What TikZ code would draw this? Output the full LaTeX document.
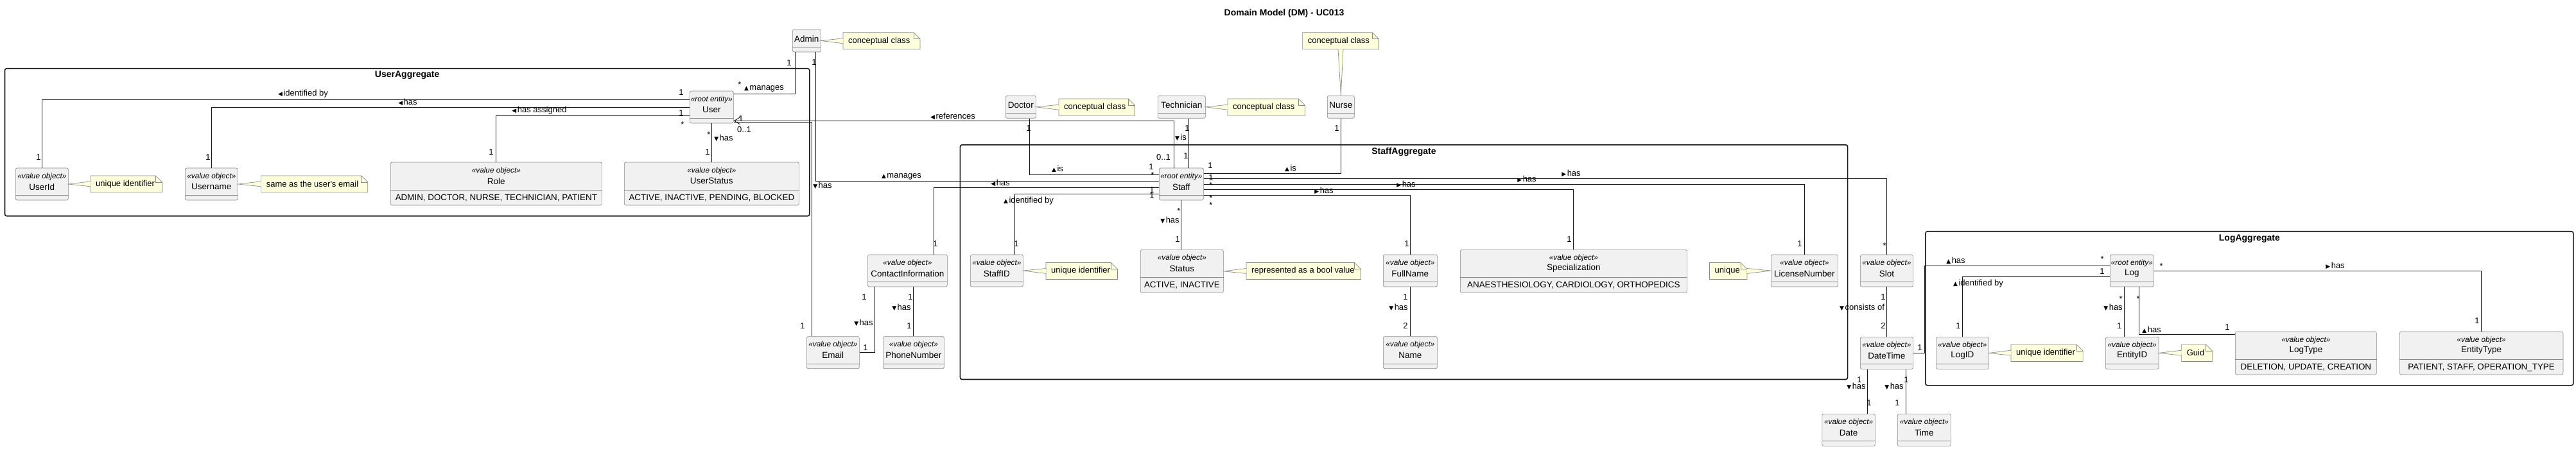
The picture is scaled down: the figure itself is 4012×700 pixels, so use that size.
\documentclass[tikz,border=0pt]{standalone}
\usepackage{fontspec}
\setmainfont{Liberation Sans}
\newfontfamily\symfont{DejaVu Sans}
\usepackage{tikz}
\usetikzlibrary{arrows.meta,calc,positioning}
\definecolor{clsfill}{HTML}{F1F1F1}
\definecolor{notefill}{HTML}{FEFFDD}
\definecolor{edgecol}{HTML}{181818}
\definecolor{boxcol}{HTML}{8A8A8A}
\tikzset{
  cls/.style={draw=boxcol, fill=clsfill, rounded corners=2.5pt, line width=0.7pt, inner sep=0pt, anchor=north west},
  clsline/.style={draw=boxcol, line width=0.7pt},
  stereo/.style={font=\fontsize{11.8}{13}\selectfont\itshape, inner sep=0pt},
  clsname/.style={font=\fontsize{13.5}{15}\selectfont, inner sep=0pt},
  enumtxt/.style={font=\fontsize{13.4}{15}\selectfont, inner sep=0pt},
  notebox/.style={inner sep=0pt, anchor=north west},
  notetxt/.style={font=\fontsize{13}{15}\selectfont, inner sep=0pt, anchor=west},
  notedraw/.style={draw=boxcol, fill=notefill, line width=0.7pt},
  assoc/.style={draw=edgecol, line width=0.9pt},
  lbl/.style={font=\fontsize{13}{15}\selectfont, inner sep=0pt},
  pkg/.style={draw=edgecol, line width=1.6pt, rounded corners=3pt, inner sep=0pt, anchor=north west},
  pkgtitle/.style={font=\fontsize{14}{16}\selectfont\bfseries, inner sep=0pt},
}
\newcommand{\dirL}{{\symfont\fontsize{9}{9}\selectfont\char"25C0}\hspace{1.5pt}}
\newcommand{\dirR}{{\symfont\fontsize{9}{9}\selectfont\char"25B6}\hspace{1.5pt}}
\newcommand{\dirU}{{\symfont\fontsize{9}{9}\selectfont\char"25B2}\hspace{1.5pt}}
\newcommand{\dirD}{{\symfont\fontsize{9}{9}\selectfont\char"25BC}\hspace{1.5pt}}
% class boxes: name, left, top, width, ...
\newcommand{\plaincls}[5]{%
  \node[cls, minimum width=#4pt, minimum height=35pt] (#1) at (#2,#3) {};
  \draw[clsline] ([yshift=8pt]#1.south west) -- ([yshift=8pt]#1.south east);
  \node[clsname] (#1-nm) at ([yshift=-15pt]#1.north) {#5};
}
\newcommand{\valcls}[6]{%
  \node[cls, minimum width=#4pt, minimum height=50pt] (#1) at (#2,#3) {};
  \draw[clsline] ([yshift=8pt]#1.south west) -- ([yshift=8pt]#1.south east);
  \node[stereo] (#1-st) at ([yshift=-13.5pt]#1.north) {«#5»};
  \node[clsname] (#1-nm) at ([yshift=-29.5pt]#1.north) {#6};
}
\newcommand{\enumcls}[6]{%
  \node[cls, minimum width=#4pt, minimum height=67pt] (#1) at (#2,#3) {};
  \draw[clsline] ([yshift=24pt]#1.south west) -- ([yshift=24pt]#1.south east);
  \node[stereo] (#1-st) at ([yshift=-13.5pt]#1.north) {«value object»};
  \node[clsname] (#1-nm) at ([yshift=-29.5pt]#1.north) {#5};
  \node[enumtxt] (#1-val) at ([yshift=-56pt]#1.north) {#6};
}
% notes: name, left, top, width, height, text
\newcommand{\umlnote}[6]{%
  \node[notebox, minimum width=#4pt, minimum height=#5pt] (#1) at (#2,#3) {};
  \draw[notedraw] (#1.north west) -- ([xshift=-10pt]#1.north east) -- ([yshift=-10pt]#1.north east) -- (#1.south east) -- (#1.south west) -- cycle;
  \draw[clsline] ([xshift=-10pt]#1.north east) |- ([yshift=-10pt]#1.north east);
  \node[notetxt] (#1-tx) at ([xshift=8pt]#1.west) {#6};
}
% note tail: tip, base, shift key
\newcommand{\notetail}[3]{%
  \draw[notedraw] ([#3=4pt]#2) -- (#1) -- ([#3=-4pt]#2);
}
\begin{document}
\begin{tikzpicture}[x=1pt,y=-1pt]
\fill[white] (0,0) rectangle (4012,700);
\useasboundingbox (0,0) rectangle (4012,700);

\node[pkgtitle] (title) at (2000,20.7) {Domain Model (DM) - UC013};

% aggregates
\node[pkg, minimum width=1253.3pt, minimum height=230pt] (UserAgg) at (6.7,106) {};
\node[pkgtitle] (UserAggT) at ([yshift=-11pt]UserAgg.north) {UserAggregate};
\node[pkg, minimum width=1382.2pt, minimum height=365.7pt] (StaffAgg) at (1494.6,225) {};
\node[pkgtitle] (StaffAggT) at ([yshift=-12pt]StaffAgg.north) {StaffAggregate};
\node[pkg, minimum width=1009pt, minimum height=240pt] (LogAgg) at (2998,360) {};
\node[pkgtitle] (LogAggT) at ([yshift=-12pt]LogAgg.north) {LogAggregate};

% conceptual classes
\plaincls{Admin}{1234}{45.7}{44}{Admin}
\plaincls{Doctor}{1566}{149}{47}{Doctor}
\plaincls{Technician}{1803}{149}{74}{Technician}
\plaincls{Nurse}{2067}{149}{42}{Nurse}

% user aggregate
\valcls{User}{1074}{141.7}{68}{root entity}{User}
\valcls{UserId}{24}{261.7}{82}{value object}{UserId}
\valcls{Username}{288}{261.7}{82}{value object}{Username}
\enumcls{Role}{608}{252.7}{329}{Role}{ADMIN, DOCTOR, NURSE, TECHNICIAN, PATIENT}
\enumcls{UserStatus}{972}{252.7}{272}{UserStatus}{ACTIVE, INACTIVE, PENDING, BLOCKED}

% staff aggregate
\valcls{Staff}{1805}{261.7}{69}{root entity}{Staff}
\valcls{ContactInformation}{1351}{396.7}{124}{value object}{ContactInformation}
\valcls{StaffID}{1511}{396.7}{82}{value object}{StaffID}
\enumcls{Status}{1776}{389}{129}{Status}{ACTIVE, INACTIVE}
\valcls{FullName}{2154}{396.7}{84}{value object}{FullName}
\enumcls{Specialization}{2274}{389}{353}{Specialization}{ANAESTHESIOLOGY, CARDIOLOGY, ORTHOPEDICS}
\valcls{LicenseNumber}{2758}{396.7}{104}{value object}{LicenseNumber}
\valcls{Slot}{2897}{396.7}{82}{value object}{Slot}
\valcls{Email}{1256}{524.3}{82}{value object}{Email}
\valcls{PhoneNumber}{1375}{524.3}{95}{value object}{PhoneNumber}
\valcls{Name}{2154}{524.3}{84}{value object}{Name}
\valcls{DateTime}{2897}{525}{82}{value object}{DateTime}
\valcls{Date}{2837.5}{645}{82.5}{value object}{Date}
\valcls{Time}{2955}{645}{83}{value object}{Time}

% log aggregate
\valcls{Log}{3286}{396.7}{68}{root entity}{Log}
\valcls{LogID}{3015}{525}{82}{value object}{LogID}
\valcls{EntityID}{3279}{525}{82.6}{value object}{EntityID}
\enumcls{LogType}{3481}{516.7}{220}{LogType}{DELETION, UPDATE, CREATION}
\enumcls{EntityType}{3737}{516.7}{254.5}{EntityType}{PATIENT, STAFF, OPERATION\_TYPE}

% notes
\umlnote{AdminNote}{1313}{50.7}{119.6}{25.6}{conceptual class}
\umlnote{DoctorNote}{1649}{154}{118}{26}{conceptual class}
\umlnote{TechNote}{1912}{154}{120}{26}{conceptual class}
\umlnote{NurseNote}{2028.6}{50.7}{118.4}{25.6}{conceptual class}
\umlnote{UserIdNote}{141}{274}{111}{25.3}{unique identifier}
\umlnote{UsernameNote}{406.6}{274}{165.8}{25.3}{same as the user\textquotesingle s email}
\umlnote{StaffIDNote}{1629}{409.5}{111}{25.5}{unique identifier}
\umlnote{StatusNote}{1941}{409.5}{178}{25.5}{represented as a bool value}
\umlnote{LicenseNote}{2662.5}{409.5}{58}{25.5}{unique}
\umlnote{LogIDNote}{3132}{537}{111.7}{26}{unique identifier}
\umlnote{EntityIDNote}{3397.6}{537}{47.7}{26}{Guid}
\notetail{Admin.east}{AdminNote.west}{yshift}
\notetail{Doctor.east}{DoctorNote.west}{yshift}
\notetail{Technician.east}{TechNote.west}{yshift}
\notetail{Nurse.north}{NurseNote.south}{xshift}
\notetail{UserId.east}{UserIdNote.west}{yshift}
\notetail{Username.east}{UsernameNote.west}{yshift}
\notetail{StaffID.east}{StaffIDNote.west}{yshift}
\notetail{Status.east}{StatusNote.west}{yshift}
\notetail{LicenseNumber.west}{LicenseNote.east}{yshift}
\notetail{LogID.east}{LogIDNote.west}{yshift}
\notetail{EntityID.east}{EntityIDNote.west}{yshift}

% associations
\draw[assoc] ([xshift=-18pt]Admin.south) |- ([yshift=21pt]User.east);
\draw[assoc] ([xshift=14.5pt]Admin.south) |- ([yshift=4.4pt]Staff.west);
\draw[assoc] ([yshift=12pt]User.west) -| (UserId.north);
\draw[assoc] (User.west) -| (Username.north);
\draw[assoc] ([yshift=-13pt]User.west) -| (Role.north);
\draw[assoc] (User.south) -- (UserStatus.north);
\draw[assoc] ([yshift=-23pt]User.east) -| ([xshift=-33pt]Email.north);
\draw[assoc, -{Straight Barb[length=9pt,width=11pt]}] ([xshift=-11.5pt]Staff.north) |- ([yshift=-21.3pt]User.east);
\draw[assoc] ([xshift=14pt]Doctor.south) |- ([yshift=14.4pt]Staff.west);
\draw[assoc] ([xshift=11pt]Technician.south) -- ([xshift=11.5pt]Staff.north);
\draw[assoc] (Nurse.south) |- ([yshift=16.7pt]Staff.east);
\draw[assoc] ([yshift=8.4pt]Staff.east) -| (Slot.north);
\draw[assoc] (Staff.east) -| (LicenseNumber.north);
\draw[assoc] ([yshift=-8.6pt]Staff.east) -| (Specialization.north);
\draw[assoc] ([yshift=-17.6pt]Staff.east) -| (FullName.north);
\draw[assoc] (Staff.south) -- (Staff.south |- Status.north);
\draw[assoc] ([yshift=-5.6pt]Staff.west) -| ([xshift=41pt]ContactInformation.north);
\draw[assoc] ([yshift=-15.6pt]Staff.west) -| ([xshift=28pt]StaffID.north);
\draw[assoc] ([xshift=-50.5pt]ContactInformation.south) |- (Email.east);
\draw[assoc] (PhoneNumber.north |- ContactInformation.south) -- (PhoneNumber.north);
\draw[assoc] (FullName.south) -- (Name.north);
\draw[assoc] (Slot.south) -- (DateTime.north);
\draw[assoc] ([xshift=-29.5pt]DateTime.south) -- ([xshift=-29.5pt]DateTime.south |- Date.north);
\draw[assoc] ([xshift=29.8pt]DateTime.south) -- ([xshift=29.8pt]DateTime.south |- Time.north);
\draw[assoc] (DateTime.east) -- ++(18pt,0pt) |- ([yshift=7.7pt]Log.west);
\draw[assoc] ([yshift=-9.7pt]Log.west) -| (LogID.north);
\draw[assoc] ([xshift=-11.6pt]Log.south) -- ([xshift=-11.6pt]Log.south |- EntityID.north);
\draw[assoc] ([xshift=11.3pt]Log.south) |- ([yshift=29pt]LogType.west);
\draw[assoc] (Log.east) -| (EntityType.north);

% user aggregate labels
\node[lbl] (lUid) at (472,146) {\dirL identified by};
\node[lbl] (lUname) at (635,159) {\dirL has};
\node[lbl] (lRole) at (840,172) {\dirL has assigned};
\node[lbl] (lUst) at (1127,215) {\dirD has};
\node[lbl] (mUid1) at (1061,144) {1};
\node[lbl] (mUname1) at (1061,176) {1};
\node[lbl] (mRole1) at (1063,194) {*};
\node[lbl] (mUid2) at (60,245) {1};
\node[lbl] (mUname2) at (324,245) {1};
\node[lbl] (mRole2) at (765,237) {1};
\node[lbl] (mUst1) at (1104,210) {*};
\node[lbl] (mUst2) at (1102,237) {1};
% admin labels
\node[lbl] (lAdmU) at (1190,138) {\dirU manages};
\node[lbl] (mAdmU1) at (1229,98) {1};
\node[lbl] (mAdmU2) at (1152,132) {*};
\node[lbl] (lAdmS) at (1404,275) {\dirU manages};
\node[lbl] (mAdmS1) at (1268,97) {1};
\node[lbl] (mAdmS2) at (1795,273) {*};
% email and references
\node[lbl] (mRef1) at (1154,185) {1};
\node[lbl] (mMail1) at (1159,202) {0..1};
\node[lbl] (lMail) at (1281,289) {\dirD has};
\node[lbl] (mMail2) at (1250,508) {1};
\node[lbl] (lRef) at (1484,181) {\dirL references};
\node[lbl] (mRef2) at (1812,245) {0..1};
% doctor, technician, nurse
\node[lbl] (mDoc1) at (1602,200) {1};
\node[lbl] (lDoc) at (1647,263) {\dirU is};
\node[lbl] (mDoc2) at (1793,260) {1};
\node[lbl] (mTec1) at (1849,200) {1};
\node[lbl] (lTec) at (1839,214) {\dirD is};
\node[lbl] (mTec2) at (1847,243) {1};
\node[lbl] (mNur1) at (2082,200) {1};
\node[lbl] (lNur) at (2010,262) {\dirU is};
\node[lbl] (mNur2) at (1885,258) {1};
% staff right side
\node[lbl] (mSlot1) at (1886,277) {1};
\node[lbl] (mLic1) at (1886,289) {*};
\node[lbl] (mSpec1) at (1886,309) {*};
\node[lbl] (mFull1) at (1886,320) {*};
\node[lbl] (lSlot) at (2447,270) {\dirR has};
\node[lbl] (lLic) at (2378,279) {\dirR has};
\node[lbl] (lSpec) at (2190,287) {\dirR has};
\node[lbl] (lFull) at (2062,297) {\dirR has};
\node[lbl] (mSlot2) at (2935,383) {*};
\node[lbl] (mLic2) at (2803,380) {1};
\node[lbl] (mSpec2) at (2444,373) {1};
\node[lbl] (mFull2) at (2191,380) {1};
% staff left and bottom
\node[lbl] (lCont) at (1558,285) {\dirL has};
\node[lbl] (mCont1) at (1794,296) {1};
\node[lbl] (mCont2) at (1457,380) {1};
\node[lbl] (lSid) at (1602,313) {\dirU identified by};
\node[lbl] (mSid1) at (1794,305) {1};
\node[lbl] (mSid2) at (1583,380) {1};
\node[lbl] (mStat1) at (1836,329) {*};
\node[lbl] (lStat) at (1822,343) {\dirD has};
\node[lbl] (mStat2) at (1834,373) {1};
% contact information
\node[lbl] (mCm1) at (1346,463) {1};
\node[lbl] (lCm) at (1345,503) {\dirD has};
\node[lbl] (mCm2) at (1348,542) {1};
\node[lbl] (mCp1) at (1418,463) {1};
\node[lbl] (lCp) at (1404,479) {\dirD has};
\node[lbl] (mCp2) at (1416,508) {1};
% name
\node[lbl] (mNm1) at (2189,463) {1};
\node[lbl] (lNm) at (2178,479) {\dirD has};
\node[lbl] (mNm2) at (2189,508) {2};
% slot, datetime
\node[lbl] (mDt1) at (2933,463) {1};
\node[lbl] (lDt) at (2900,479) {\dirD consists of};
\node[lbl] (mDt2) at (2933,508) {2};
\node[lbl] (mDa1) at (2896,592) {1};
\node[lbl] (lDa) at (2891,602) {\dirD has};
\node[lbl] (mDa2) at (2911,628) {1};
\node[lbl] (mTi1) at (2969,592) {1};
\node[lbl] (lTi) at (2950,602) {\dirD has};
\node[lbl] (mTi2) at (2955,628) {1};
% log
\node[lbl] (mDl1) at (2990,542) {1};
\node[lbl] (lDl) at (3046,406) {\dirU has};
\node[lbl] (mDl2) at (3274,404) {*};
\node[lbl] (mLid1) at (3274,423) {1};
\node[lbl] (lLid) at (3081,442) {\dirU identified by};
\node[lbl] (mLid2) at (3050,508) {1};
\node[lbl] (mEid1) at (3303,466) {*};
\node[lbl] (lEid) at (3291,479) {\dirD has};
\node[lbl] (mEid2) at (3301,508) {1};
\node[lbl] (mLt1) at (3330,466) {*};
\node[lbl] (lLt) at (3351,514) {\dirU has};
\node[lbl] (mLt2) at (3469,510) {1};
\node[lbl] (mEt1) at (3366,415) {*};
\node[lbl] (lEt) at (3637,414) {\dirR has};
\node[lbl] (mEt2) at (3858,500) {1};
\end{tikzpicture}
\end{document}
